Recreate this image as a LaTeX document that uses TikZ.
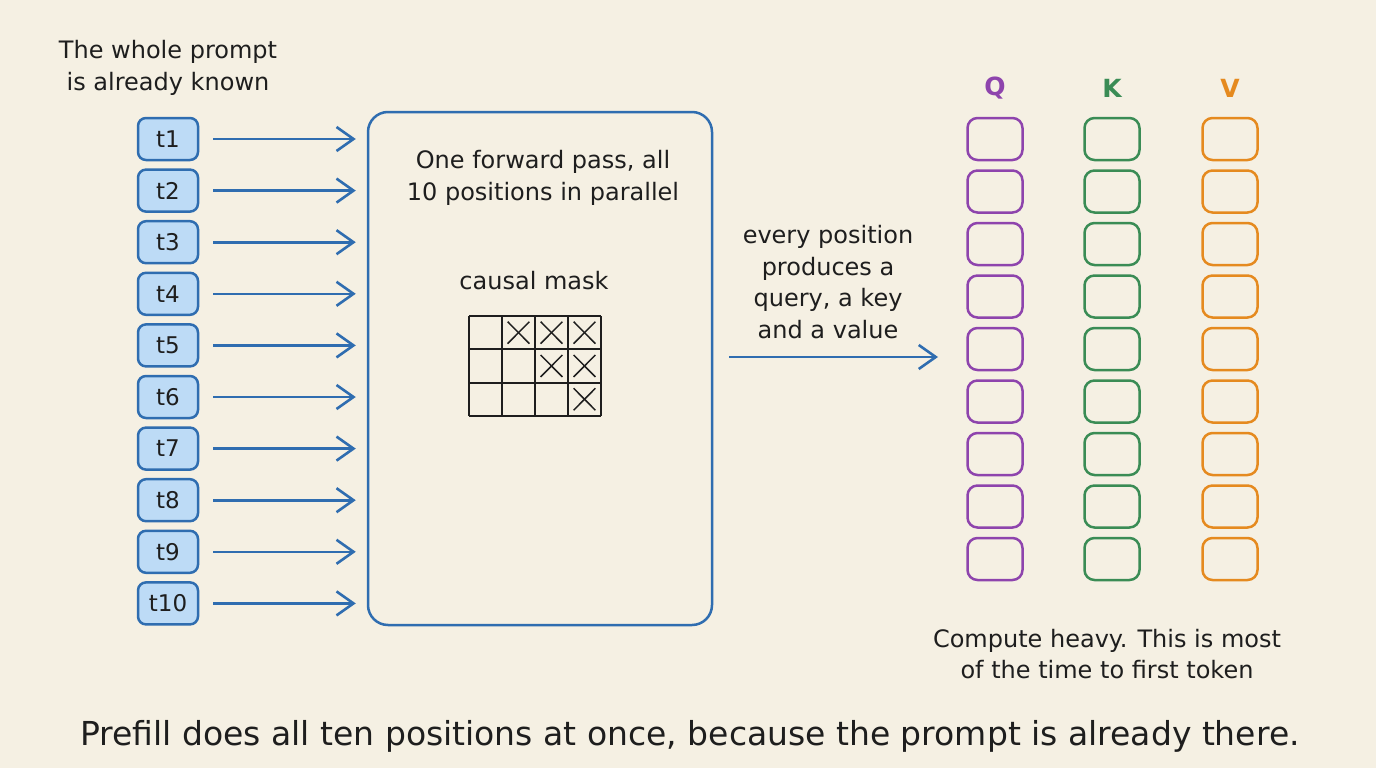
\documentclass[tikz,border=0pt]{standalone}
\usepackage{fontspec}
\setmainfont{DejaVu Sans}
\usetikzlibrary{arrows.meta}

\definecolor{paper}{HTML}{F5F0E3}
\definecolor{tokfill}{HTML}{BDDBF6}
\definecolor{tokline}{HTML}{2F6DB0}
\definecolor{qcol}{HTML}{8E44AD}
\definecolor{kcol}{HTML}{3A8C55}
\definecolor{vcol}{HTML}{E58A1F}
\definecolor{ink}{HTML}{1E1E1E}

\begin{document}
\begin{tikzpicture}[x=1pt,y=-1pt,
    tok/.style={draw=tokline,fill=tokfill,line width=2.5pt,rounded corners=8pt,
      minimum width=60pt,minimum height=42pt,inner sep=0pt,text=ink,
      font=\fontsize{23}{26}\selectfont},
    slot/.style={draw=#1,line width=2.5pt,rounded corners=10pt,
      minimum width=55pt,minimum height=42pt,inner sep=0pt},
    txt/.style={align=center,text=ink,font=\fontsize{24}{31.5}\selectfont},
    head/.style={text=#1,font=\fontsize{25}{28}\selectfont\bfseries},
    feed/.style={-{Straight Barb[length=17pt,width=24pt]},draw=tokline,line width=2.6pt}]
    \fill[paper] (0,0) rectangle (1376,768);
    \useasboundingbox (0,0) rectangle (1376,768);
    % tokens of the prompt
    \node[txt] (known) at (168,68) {The whole prompt\\is already known};
    \node[draw=tokline,line width=2.5pt,rounded corners=20pt,minimum width=344pt,
      minimum height=513pt] (pass) at (540,368.5) {};
    \node[txt] (passtxt) at (543,178) {One forward pass, all\\10 positions in parallel};
    \foreach \i in {1,...,10} {
      \node[tok] (t\i) at (168,{139+51.6*(\i-1)}) {t\i};
      \path (t\i) edge [feed,shorten <=14pt,shorten >=11pt] (pass.west |- t\i);
    }
    % causal mask
    \node[txt] (masktxt) at (534,281) {causal mask};
    \begin{scope}[shift={(469,316)},x=33pt,y=-33.3pt,line width=1.8pt,draw=ink]
      \foreach \c in {0,...,4} \draw (\c,0) -- (\c,3);
      \foreach \r in {0,...,3} \draw (0,\r) -- (4,\r);
      \foreach \c/\r in {1/0,2/0,3/0,2/1,3/1,3/2} {
        \draw[line width=1.5pt] (\c+0.17,\r+0.17) -- (\c+0.83,\r+0.83);
        \draw[line width=1.5pt] (\c+0.83,\r+0.17) -- (\c+0.17,\r+0.83);
      }
    \end{scope}
    % queries, keys and values
    \node[head=qcol] (Q) at (995,88) {Q};
    \node[head=kcol] (K) at (1112,88) {K};
    \node[head=vcol] (V) at (1230,88) {V};
    \foreach \i in {1,...,9} {
      \node[slot=qcol] (Q\i) at (995,{139+52.5*(\i-1)}) {};
      \node[slot=kcol] (K\i) at (1112,{139+52.5*(\i-1)}) {};
      \node[slot=vcol] (V\i) at (1230,{139+52.5*(\i-1)}) {};
    }
    \coordinate (qin) at (967,357);
    \path (pass.east |- qin) edge [feed,shorten <=16pt,shorten >=29pt] (qin);
    \node[txt] (qkvtxt) at (828,282) {every position\\produces a\\query, a key\\and a value};
    \node[txt] (cost) at (1107,654) {Compute heavy. This is most\\of the time to first token};
    \node[txt,font=\fontsize{33}{36}\selectfont] (caption) at (690,736)
      {Prefill does all ten positions at once, because the prompt is already there.};
\end{tikzpicture}
\end{document}
